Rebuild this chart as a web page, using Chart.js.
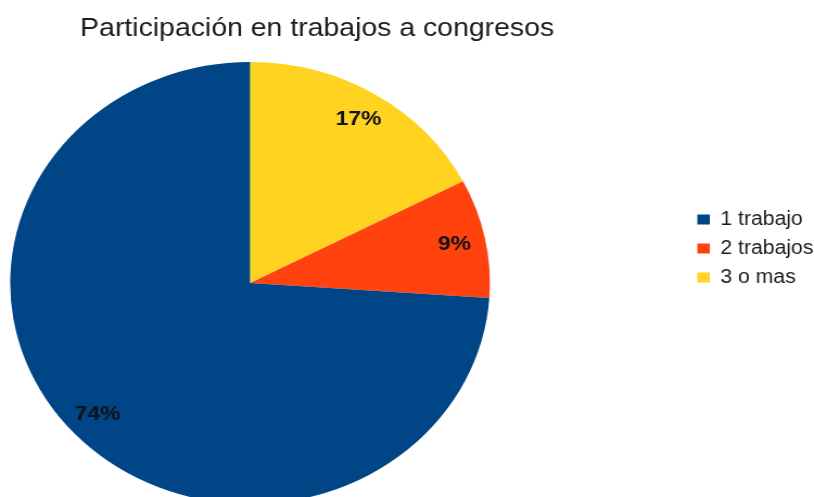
<!DOCTYPE html>
<html>
<head>
<meta charset="utf-8">
<script src="https://cdn.jsdelivr.net/npm/chart.js@4.4.1/dist/chart.umd.min.js"></script>
<style>
  html,body{margin:0;padding:0;background:#fff;overflow:hidden;}
  /* the reference is stretched sideways (the pie is an ellipse), so we draw narrow and stretch */
  #wrap{width:750px;height:497px;transform:scaleX(1.0853);transform-origin:0 0;}
</style>
</head>
<body>
<div id="wrap"><canvas id="pie" width="750" height="497"></canvas></div>
<script>
(function(){
  const TITLE = 'Participación en trabajos a congresos';
  const categories = ['1 trabajo', '2 trabajos', '3 o mas'];
  const counts = [17, 2, 4];
  const colors = ['#004586', '#ff420e', '#ffd320'];

  // LibreOffice goes counter-clockwise, Chart.js clockwise: feed reversed, reverse the legend back
  const rev = a => a.slice().reverse();

  // pie sits left of the legend and runs off the bottom edge, like the original
  const pieBox = {
    id: 'pieBox',
    afterLayout(chart){
      const a = chart.chartArea, cx = 230.4, cy = 283, r = 221;
      a.left = cx - r; a.right = cx + r; a.top = cy - r; a.bottom = cy + r;
      a.width = 2*r; a.height = 2*r;
    }
  };

  const pctLabels = {
    id: 'pctLabels',
    afterDatasetsDraw(chart){
      const ctx = chart.ctx;
      const data = chart.data.datasets[0].data;
      const total = data.reduce((a,b)=>a+b,0);
      ctx.save();
      ctx.font = 'bold 21px "Liberation Sans", Arial, sans-serif';
      ctx.fillStyle = '#111';
      ctx.textAlign = 'center';
      ctx.textBaseline = 'middle';
      chart.getDatasetMeta(0).data.forEach((arc,i)=>{
        const p = arc.getProps(['x','y','startAngle','endAngle','outerRadius'], true);
        const mid = (p.startAngle + p.endAngle)/2;
        const r = p.outerRadius*0.87;
        ctx.fillText(Math.round(data[i]/total*100)+'%', p.x + Math.cos(mid)*r, p.y + Math.sin(mid)*r);
      });
      ctx.restore();
    }
  };

  new Chart(document.getElementById('pie'), {
    type: 'pie',
    data: {
      labels: rev(categories),
      datasets: [{ data: rev(counts), backgroundColor: rev(colors), borderWidth: 0 }]
    },
    options: {
      responsive: false,
      animation: false,
      // left pad only moves the title over the pie; the pie box is set in pieBox
      layout: { padding: { left: -175, right: -9.4, top: 0, bottom: 0 } },
      plugins: {
        title: {
          display: true, text: TITLE, color: '#1c1c1c',
          font: { family: '"Liberation Sans", Arial, sans-serif', size: 26.2, weight: 'normal' },
          padding: { top: 12.8, bottom: 18 }
        },
        legend: {
          position: 'right', align: 'center', reverse: true,
          labels: {
            boxWidth: 11.5, boxHeight: 10, padding: 9.4, color: '#1c1c1c',
            font: { family: '"Liberation Sans", Arial, sans-serif', size: 19.5 }
          }
        },
        tooltip: { enabled: false }
      }
    },
    plugins: [pieBox, pctLabels]
  });
})();
</script>
</body>
</html>
